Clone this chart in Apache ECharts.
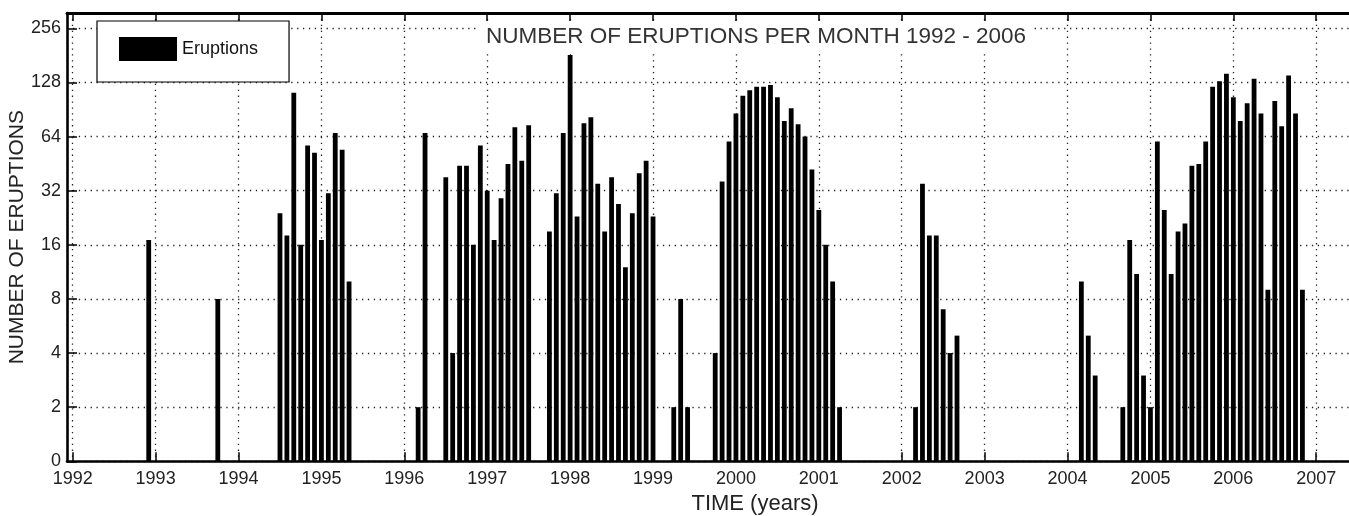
<!DOCTYPE html>
<html>
<head>
<meta charset="utf-8">
<script src="https://cdn.jsdelivr.net/npm/echarts@6/dist/echarts.min.js"></script>
<style>html,body{margin:0;padding:0;background:#fff}#chart{width:1349px;height:516px}</style>
</head>
<body>
<div id="chart"></div>
<script>
// Month of observation (YYYY-MM) and number of eruptions in that month
const months = [
  '1992-12','1993-10',
  '1994-07','1994-08','1994-09','1994-10','1994-11','1994-12',
  '1995-01','1995-02','1995-03','1995-04','1995-05',
  '1996-03','1996-04','1996-07','1996-08','1996-09','1996-10','1996-11','1996-12',
  '1997-01','1997-02','1997-03','1997-04','1997-05','1997-06','1997-07','1997-10','1997-11','1997-12',
  '1998-01','1998-02','1998-03','1998-04','1998-05','1998-06','1998-07','1998-08','1998-09','1998-10','1998-11','1998-12',
  '1999-01','1999-04','1999-05','1999-06','1999-10','1999-11','1999-12',
  '2000-01','2000-02','2000-03','2000-04','2000-05','2000-06','2000-07','2000-08','2000-09','2000-10','2000-11','2000-12',
  '2001-01','2001-02','2001-03','2001-04',
  '2002-03','2002-04','2002-05','2002-06','2002-07','2002-08','2002-09',
  '2004-03','2004-04','2004-05','2004-09','2004-10','2004-11','2004-12',
  '2005-01','2005-02','2005-03','2005-04','2005-05','2005-06','2005-07','2005-08','2005-09','2005-10','2005-11','2005-12',
  '2006-01','2006-02','2006-03','2006-04','2006-05','2006-06','2006-07','2006-08','2006-09','2006-10','2006-11'
];
const eruptions = [
  17, 8,
  24, 18, 112, 16, 57, 52,
  17, 31, 67, 54, 10,
  2, 67, 38, 4, 44, 44, 16, 57,
  32, 17, 29, 45, 72, 47, 74, 19, 31, 67,
  182, 23, 76, 82, 35, 19, 38, 27, 12, 24, 40, 47,
  23, 2, 8, 2, 4, 36, 60,
  86, 108, 116, 121, 121, 124, 106, 78, 92, 75, 64, 42,
  25, 16, 10, 2,
  2, 35, 18, 18, 7, 4, 5,
  10, 5, 3, 2, 17, 11, 3,
  2, 60, 25, 11, 19, 21, 44, 45, 60, 121, 130, 143,
  106, 78, 98, 134, 86, 9, 101, 73, 140, 86, 9
];
const xTickYears = [1992,1993,1994,1995,1996,1997,1998,1999,2000,2001,2002,2003,2004,2005,2006,2007];
const yTickValues = [1, 2, 4, 8, 16, 32, 64, 128, 256];
const yTickLabels = ['0','2','4','8','16','32','64','128','256'];
const chartTitle = 'NUMBER OF ERUPTIONS PER MONTH 1992 - 2006';
const seriesName = 'Eruptions';
const xName = 'TIME (years)';
const yName = 'NUMBER OF ERUPTIONS';

const barData = months.map((m, i) => {
  const parts = m.split('-').map(Number);
  return [parts[0] + (parts[1] - 1) / 12, eruptions[i]];
});

const FONT = "'Liberation Sans', Arial, Helvetica, sans-serif";
const xMin = 1991.931, xMax = 2008.529;
const gridLine = { show: true, lineStyle: { color: '#222', width: 1.3, type: [1.3, 4.6] } };

const chart = echarts.init(document.getElementById('chart'), null, { renderer: 'canvas' });
chart.setOption({
  animation: false,
  backgroundColor: '#fff',
  textStyle: { fontFamily: FONT },
  title: {
    text: chartTitle,
    left: 480, top: 21,
    padding: [4, 6],
    backgroundColor: '#fff',
    textStyle: { fontFamily: FONT, fontSize: 22.5, fontWeight: 'normal', color: '#333' }
  },
  legend: {
    data: [seriesName],
    left: 97, top: 21,
    padding: [16, 31, 21, 22],
    itemWidth: 58, itemHeight: 24,
    icon: 'rect',
    borderColor: '#000', borderWidth: 1.2, borderRadius: 0,
    backgroundColor: '#fff',
    textStyle: { fontFamily: FONT, fontSize: 18, color: '#111' },
    z: 10
  },
  grid: { left: 67, top: 13, width: 1376, height: 448.3, containLabel: false, outerBoundsMode: 'none' },
  xAxis: [{
    type: 'value', position: 'bottom', min: xMin, max: xMax,
    name: xName, nameLocation: 'middle', nameGap: 32, nameMoveOverlap: false,
    nameTextStyle: { fontFamily: FONT, fontSize: 22, color: '#222' },
    axisLine: { show: true, onZero: false, lineStyle: { color: '#000', width: 2.6 } },
    axisTick: { show: true, inside: true, length: 9, customValues: xTickYears, lineStyle: { color: '#000', width: 1.5 } },
    axisLabel: { customValues: xTickYears, margin: 9, fontFamily: FONT, fontSize: 18, color: '#222', formatter: v => String(Math.round(v)) },
    splitLine: gridLine
  }, {
    type: 'value', position: 'top', min: xMin, max: xMax,
    axisLine: { show: true, onZero: false, lineStyle: { color: '#000', width: 3 } },
    axisTick: { show: true, inside: true, length: 8, customValues: xTickYears, lineStyle: { color: '#000', width: 1.5 } },
    axisLabel: { show: false },
    splitLine: { show: false }
  }],
  yAxis: {
    type: 'log', logBase: 2, min: 1, max: 311.5,
    name: yName, nameLocation: 'middle', nameGap: 39, nameRotate: 90, nameMoveOverlap: false,
    nameTextStyle: { fontFamily: FONT, fontSize: 21, color: '#222' },
    axisLine: { show: true, onZero: false, lineStyle: { color: '#000', width: 2.6 } },
    axisTick: { show: true, inside: true, length: 10, customValues: yTickValues, lineStyle: { color: '#000', width: 1.5 } },
    axisLabel: {
      customValues: yTickValues, margin: 6, fontFamily: FONT, fontSize: 18, color: '#222',
      formatter: v => { const i = yTickValues.findIndex(t => Math.abs(t - v) < 1e-6 * t); return i >= 0 ? yTickLabels[i] : ''; }
    },
    splitLine: gridLine
  },
  series: [{
    name: seriesName,
    type: 'bar',
    xAxisIndex: 0,
    data: barData,
    barWidth: 4.8,
    itemStyle: { color: '#000' },
    z: 2
  }]
});
</script>
</body>
</html>
